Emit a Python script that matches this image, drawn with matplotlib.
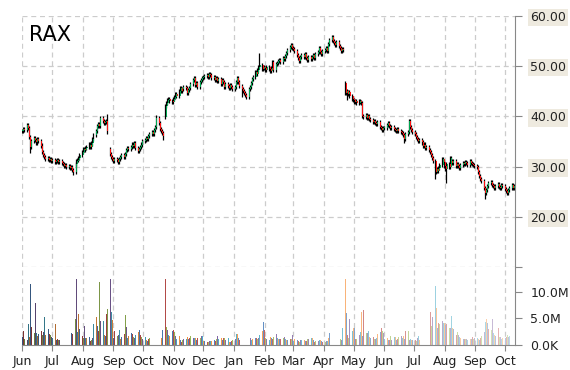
import numpy as np
import pandas as pd
import matplotlib
matplotlib.use('Agg')
import matplotlib.pyplot as plt
import matplotlib.dates as mdates
from matplotlib.ticker import FuncFormatter

symbol = 'RAX'
start, end = '2011-06-01', '2012-10-10'

# daily closes (one row per month, Jun 2011 .. Oct 2012)
closes = [
    37.0, 37.4, 37.2, 38.2, 37.6, 35.8, 34.0, 35.0, 35.6, 35.2, 34.8, 35.4, 35.0, 34.2, 33.0, 32.4, 32.0, 31.6, 31.8, 31.4, 31.6, 31.2,
    31.4, 31.0, 31.2, 31.4, 31.0, 31.2, 30.8, 30.6, 30.2, 30.4, 30.0, 30.2, 29.8, 30.0, 29.4, 29.0, 30.6, 31.2, 31.4, 31.8, 32.4,
    33.0, 33.6, 33.4, 33.8, 34.0, 34.4, 34.0, 34.6, 35.4, 36.2, 37.0, 38.0, 38.4, 38.0, 39.6, 39.0, 38.6, 38.8, 39.0, 37.0, 32.6, 32.0, 31.6,
    31.2, 31.6, 31.4, 31.0, 31.6, 32.0, 32.4, 32.0, 32.6, 33.4, 33.8, 33.6, 34.0, 34.4, 34.2, 34.6, 33.8, 33.2, 33.6, 34.0, 34.4, 35.0,
    35.2, 35.6, 35.4, 36.0, 36.4, 36.8, 36.4, 37.2, 37.8, 39.6, 38.6, 37.4, 37.0, 36.6, 36.0, 42.0, 42.6, 43.2, 43.4, 43.0, 42.8,
    43.4, 43.8, 44.4, 44.0, 45.0, 45.6, 45.0, 45.4, 45.8, 45.6, 44.6, 45.2, 45.6, 46.4, 47.2, 47.6, 46.2, 46.6, 45.8, 46.8, 47.2, 47.6,
    47.8, 48.0, 48.2, 47.8, 48.4, 48.2, 47.6, 47.8, 47.2, 47.6, 47.0, 47.4, 46.4, 47.2, 46.8, 45.8, 46.4, 46.0, 45.6, 46.2, 45.8, 45.4,
    45.8, 46.8, 47.6, 46.8, 46.0, 45.4, 45.0, 44.6, 44.2, 43.8, 45.4, 45.8, 46.6, 47.4, 47.8, 48.8, 48.4, 49.2, 49.8, 50.2, 49.4, 49.8,
    49.6, 49.2, 49.8, 49.4, 49.0, 49.6, 50.8, 49.2, 50.4, 50.6, 51.0, 51.2, 50.8, 51.6, 51.4, 52.0, 52.6, 53.2, 53.8, 54.2, 53.6,
    53.4, 53.0, 52.2, 51.6, 51.0, 51.8, 52.2, 51.8, 52.4, 51.6, 51.2, 51.8, 51.4, 51.8, 52.2, 51.6, 52.4, 52.8, 53.6, 52.8, 52.4, 53.0,
    53.2, 53.6, 53.0, 54.4, 55.2, 55.8, 55.0, 54.6, 54.2, 54.8, 54.0, 53.6, 53.0, 53.4, 53.2, 44.6, 45.0, 44.4, 44.8, 44.0, 43.4,
    43.2, 42.8, 43.0, 42.6, 43.0, 42.8, 42.6, 40.0, 39.8, 40.2, 39.6, 40.0, 39.4, 39.2, 38.8, 39.0, 38.6, 38.4, 38.8, 37.8, 37.6, 37.2, 37.6,
    37.6, 38.2, 38.6, 38.0, 37.6, 37.8, 37.4, 37.2, 37.0, 37.4, 37.0, 36.8, 36.6, 36.2, 35.4, 36.4, 36.8, 39.0, 37.8, 37.2, 36.8,
    36.4, 35.8, 35.4, 35.0, 35.2, 34.8, 34.2, 34.4, 33.8, 34.0, 33.4, 33.0, 32.4, 31.8, 31.2, 29.0, 29.6, 29.2, 29.8, 30.4, 31.6, 31.0,
    30.2, 29.6, 30.6, 30.0, 31.8, 31.2, 30.8, 31.2, 30.2, 30.6, 30.2, 29.8, 30.4, 30.8, 30.6, 31.0, 30.8, 30.4, 31.2, 30.8, 30.6, 30.4, 30.2,
    30.0, 29.0, 28.2, 27.6, 27.2, 25.8, 24.8, 25.4, 26.2, 26.8, 27.0, 26.4, 26.2, 25.8, 26.2, 26.6, 26.0, 25.8, 26.4, 26.2,
    25.6, 25.2, 24.8, 25.4, 25.8, 26.4, 25.8, 26.2,
]

# daily volume in millions
volumes = [
    1.5, 2.6, 1.2, 1.0, 4.0, 1.5, 11.5, 3.4, 2.2, 8.0, 2.2, 1.6, 2.1, 2.6, 1.8, 2.5, 5.3, 1.8, 3.1, 2.0, 1.8, 1.5,
    1.3, 4.0, 0.9, 1.1, 0.9, 1.0, 0.8, 1.7, 2.5, 1.6, 2.6, 2.8, 1.6, 2.5, 2.3, 2.1, 4.9, 12.4, 2.5, 5.9, 3.1,
    1.7, 1.3, 3.6, 1.3, 1.3, 1.5, 0.8, 1.0, 1.3, 4.0, 5.2, 3.6, 2.6, 11.9, 4.5, 4.5, 1.8, 1.7, 5.9, 6.8, 12.4, 6.2, 4.8,
    1.4, 2.6, 1.7, 1.8, 2.8, 1.2, 1.5, 2.0, 5.6, 3.4, 1.4, 1.7, 2.2, 2.1, 1.5, 1.3, 1.8, 2.5, 2.8, 1.9, 1.5, 1.2,
    1.5, 0.9, 0.8, 1.1, 1.3, 1.0, 0.9, 1.5, 1.2, 2.1, 2.1, 1.6, 1.3, 1.3, 2.9, 12.4, 3.3, 2.9, 1.8, 1.6, 2.7,
    2.8, 2.5, 1.6, 1.2, 1.6, 1.0, 0.6, 0.9, 1.1, 1.1, 1.5, 1.1, 1.3, 1.7, 1.4, 1.3, 1.3, 1.0, 1.4, 1.4, 1.7, 1.7,
    0.8, 0.8, 0.6, 0.5, 0.7, 0.8, 0.8, 0.9, 0.7, 1.1, 1.6, 1.1, 1.4, 1.0, 1.3, 1.4, 0.9, 1.3, 0.6, 0.5, 0.7, 0.9,
    1.2, 2.0, 2.0, 1.3, 1.0, 0.9, 0.9, 1.4, 1.5, 0.6, 1.5, 1.5, 1.3, 0.9, 1.2, 1.4, 1.4, 1.1, 1.4, 1.8, 2.6, 4.3,
    2.9, 1.4, 1.1, 1.0, 1.5, 1.3, 1.1, 1.5, 2.1, 1.3, 1.1, 1.2, 1.1, 1.3, 1.5, 1.1, 1.0, 0.9, 1.1, 1.1, 1.9,
    0.8, 1.1, 1.0, 0.7, 0.6, 1.0, 0.9, 1.0, 0.8, 0.7, 1.1, 1.1, 1.3, 1.3, 0.9, 0.6, 0.8, 0.8, 1.0, 0.9, 0.7, 0.5,
    0.5, 0.7, 0.7, 1.3, 2.3, 1.1, 1.1, 0.9, 1.0, 1.1, 1.3, 1.5, 1.1, 1.0, 3.2, 12.4, 6.1, 1.9, 1.3, 4.9, 2.6,
    3.2, 3.2, 1.1, 1.1, 1.9, 2.5, 6.3, 1.6, 6.6, 2.3, 2.2, 2.7, 1.5, 1.3, 1.5, 1.2, 1.1, 1.3, 2.1, 2.5, 3.2, 2.7, 2.3,
    1.2, 1.3, 1.0, 1.0, 1.7, 0.9, 1.5, 1.5, 0.9, 1.1, 1.5, 1.6, 1.3, 1.6, 1.2, 2.7, 2.7, 1.0, 1.1, 0.9, 1.0,
    1.0, 0.8, 1.3, 1.6, 1.0, 1.5, 2.7, 1.5, 1.1, 1.9, 1.7, 2.8, 6.3, 3.6, 5.3, 11.1, 7.0, 3.2, 4.1, 3.9, 4.6, 4.1,
    4.1, 3.8, 4.0, 3.2, 3.2, 5.4, 3.2, 3.0, 1.9, 2.5, 1.9, 1.5, 1.3, 1.1, 1.1, 1.1, 1.2, 1.0, 1.1, 1.1, 1.5, 1.2, 1.3,
    1.3, 1.1, 1.0, 1.3, 1.6, 2.5, 4.4, 4.9, 4.1, 3.0, 2.8, 4.9, 2.3, 1.9, 1.7, 3.2, 1.5, 1.5, 1.2, 1.4,
    1.3, 1.5, 1.9, 1.5, 1.6, 1.7, 1.5, 1.5,
]

# opening gaps and long wicks
gap_opens = {'2011-08-29': 33.6, '2011-10-24': 39.8, '2012-04-23': 46.6}
wick_lows = {'2011-06-09': 32.8, '2011-07-22': 28.4, '2011-08-26': 36.4, '2011-10-21': 35.2,
             '2012-01-09': 43.8, '2012-04-25': 43.2, '2012-06-21': 34.6, '2012-07-23': 27.6,
             '2012-08-03': 26.8, '2012-09-11': 23.6}
wick_highs = {'2011-08-26': 40.4, '2011-10-14': 40.2, '2012-01-27': 52.6, '2012-04-09': 56.2,
              '2012-06-26': 39.4}

palette = ['#4f81bd', '#c0504d', '#9bbb59', '#8064a2', '#4bacc6', '#f79646']

dates = pd.bdate_range(start, end)
n = min(len(dates), len(closes), len(volumes))
dates = dates[:n]
c = np.array(closes[:n])
vol = np.array(volumes[:n]) * 1e6
o = np.r_[c[0], c[:-1]]
for d, v in gap_opens.items():
    o[dates.get_loc(pd.Timestamp(d))] = v

wick = 0.4
lo_body = np.minimum(o, c)
hi_body = np.maximum(o, c)
hi = hi_body + wick
lo = lo_body - wick
for d, v in wick_lows.items():
    lo[dates.get_loc(pd.Timestamp(d))] = v
for d, v in wick_highs.items():
    hi[dates.get_loc(pd.Timestamp(d))] = v
body = np.maximum(hi_body - lo_body, 0.2)

x = mdates.date2num(dates)
grid_kw = dict(color='#cccccc', linestyle=(0, (4, 3)), linewidth=0.9)
axis_grey = '#888888'

fig = plt.figure(figsize=(5.7, 3.7), dpi=100)
ax = fig.add_axes([0.0386, 0.2784, 0.8649, 0.6784])
axv = fig.add_axes([0.0386, 0.0676, 0.8649, 0.2108], sharex=ax)

ax.vlines(x - 0.4, lo, hi, color='black', linewidth=0.9, zorder=2)
ax.bar(x + 0.3, body, bottom=lo_body, width=1.0,
       color=np.where(c >= o, '#00a651', '#ff1010'), linewidth=0, zorder=3)

# volume bars: colour cycles, shade goes from dark to pale over time
cols = []
for i in range(n):
    rgb = np.array(matplotlib.colors.to_rgb(palette[i % len(palette)]))
    t = -0.35 + 0.95 * i / (n - 1)
    rgb = rgb * (1 + t) if t < 0 else rgb + (1 - rgb) * t
    cols.append(rgb)
axv.bar(x, vol, width=0.9, color=cols)

ax.set_xlim(mdates.date2num(pd.Timestamp('2011-06-01')) - 0.5,
            mdates.date2num(pd.Timestamp('2012-10-11')))
ax.set_ylim(10, 60)
ax.set_yticks([10, 20, 30, 40, 50, 60])
ax.yaxis.set_major_formatter(FuncFormatter(lambda v, p: '' if v == 10 else f'{v:.2f}'))
axv.set_ylim(0, 14.7e6)
axv.set_yticks([0, 5e6, 10e6])
axv.yaxis.set_major_formatter(FuncFormatter(lambda v, p: f'{v / 1e6:.1f}M' if v > 0 else '0.0K'))

axv.xaxis.set_major_locator(mdates.MonthLocator())
axv.xaxis.set_major_formatter(mdates.DateFormatter('%b'))

for a in (ax, axv):
    a.yaxis.tick_right()
    for s in ('left', 'top'):
        a.spines[s].set_visible(False)
    a.spines['right'].set_color(axis_grey)
    a.tick_params(axis='y', colors=axis_grey, labelcolor='#222222', labelsize=9, length=5, pad=6)
    a.tick_params(axis='x', colors=axis_grey, labelcolor='#222222', labelsize=9, length=4, pad=3)
    a.grid(True, axis='x', **grid_kw)
    a.set_axisbelow(True)

ax.spines['bottom'].set_visible(False)
ax.grid(True, axis='y', **grid_kw)
ax.tick_params(axis='x', length=0, labelbottom=False)
axv.spines['bottom'].set_color(axis_grey)

for lbl in ax.get_yticklabels():
    lbl.set_bbox(dict(facecolor='#eeeadf', edgecolor='none', pad=1.5))

ax.text(0.014, 0.90, symbol, transform=ax.transAxes, fontsize=15, va='baseline', color='black')

fig.savefig('out.png', dpi=100)
